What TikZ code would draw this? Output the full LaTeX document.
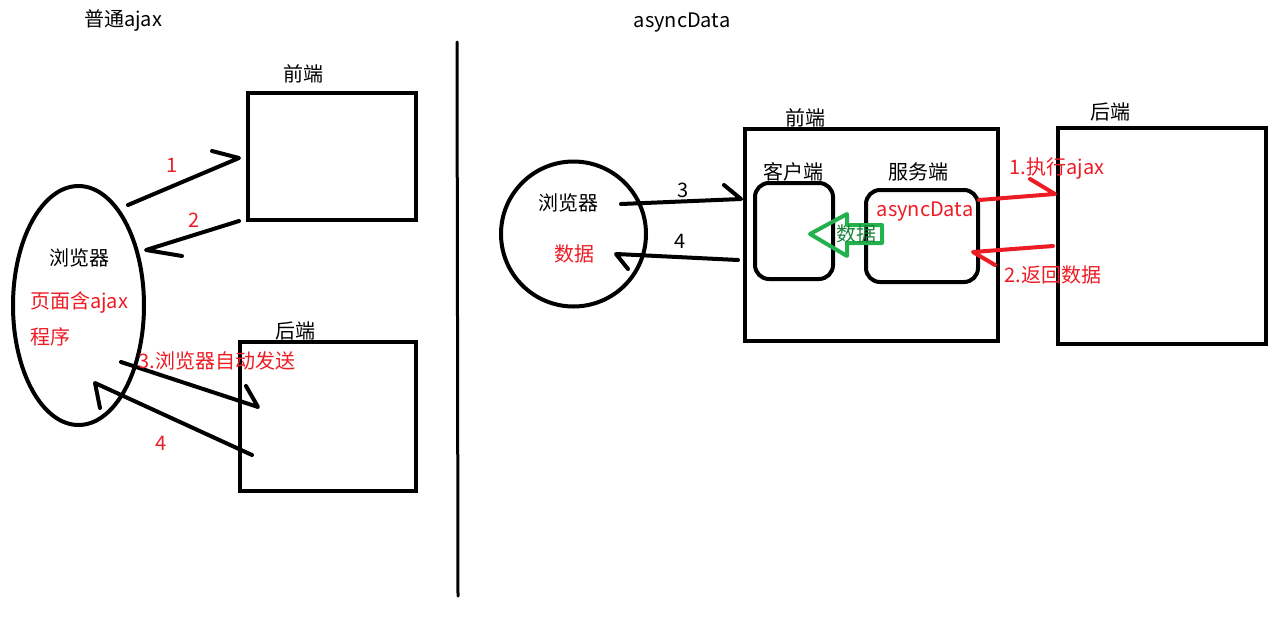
\documentclass[tikz,border=0pt]{standalone}
\usepackage{fontspec}
\setmainfont{Noto Sans CJK SC}
\usepackage{xcolor}
\usetikzlibrary{shapes.geometric}
\definecolor{paintred}{HTML}{ED1C24}
\definecolor{paintgreen}{HTML}{22B14C}

\tikzset{
  box/.style={draw, line width=4pt, inner sep=0pt},
  rbox/.style={box, rounded corners=14pt},
  hand/.style={line width=4pt, line cap=round, line join=round},
  lbl/.style={font=\fontsize{20}{24}\selectfont, inner sep=0pt},
  redlbl/.style={lbl, text=paintred},
}

\begin{document}
\begin{tikzpicture}[x=1pt, y=-1pt]
    \useasboundingbox (0,0) rectangle (1269,619);

    % left half
    \node[lbl] (titleA) at (123,20) {普通ajax};
    \node[box, minimum width=168, minimum height=127] (feA) at (332,156.5) {};
    \node[lbl] (feAl) at (303,74) {前端};
    \node[box, minimum width=176, minimum height=149] (beA) at (328,416.5) {};
    \node[lbl] (beAl) at (295,331) {后端};
    \node[box, ellipse, minimum width=131, minimum height=239] (brA) at (78.5,305.5) {};
    \node[lbl] (brAl) at (79,258) {浏览器};
    \node[redlbl] (pgA) at (79,302) {页面含ajax};
    \node[redlbl] (prA) at (50,337) {程序};

    \coordinate (a1s) at (128,205);
    \coordinate (a1e) at (239,158);
    \coordinate (a2s) at (239,221);
    \coordinate (a2e) at (146,250);
    \coordinate (a3s) at (121,362);
    \coordinate (a3e) at (258,407);
    \coordinate (a4s) at (252,455);
    \coordinate (a4e) at (95,383);
    \draw[hand] (a1s) -- (a1e) -- ++(-27,-7);
    \draw[hand] (a2s) -- (a2e) -- ++(36,6);
    \draw[hand] (a3s) -- (a3e) -- ++(-12,-21);
    \draw[hand] (a4s) -- (a4e) -- ++(5,25);
    \node[redlbl] (n1) at (172,165) {1};
    \node[redlbl] (n2) at (194,220) {2};
    \node[redlbl] (n3) at (217,361) {3.浏览器自动发送};
    \node[redlbl] (n4) at (161,443) {4};

    \draw[line width=3pt, line cap=round] (457,42) -- (458,596);

    % right half
    \node[lbl] (titleB) at (682,23) {asyncData};
    \node[box, minimum width=253, minimum height=212] (feB) at (871.5,235) {};
    \node[lbl] (feBl) at (805,118) {前端};
    \node[box, minimum width=208, minimum height=216] (beB) at (1162,236) {};
    \node[lbl] (beBl) at (1110,112) {后端};
    \node[rbox, minimum width=78, minimum height=96] (cli) at (794,231) {};
    \node[lbl] (clil) at (793,172) {客户端};
    \node[rbox, minimum width=112, minimum height=92] (srv) at (922,236) {};
    \node[lbl] (srvl) at (918,172) {服务端};
    \node[redlbl] (ad) at (925,212) {asyncData};
    \node[box, circle, minimum size=145] (brB) at (573.5,234) {};
    \node[lbl] (brBl) at (568,203) {浏览器};
    \node[redlbl] (dB) at (574,254) {数据};

    \coordinate (b3s) at (621,204);
    \coordinate (b3e) at (741,199);
    \coordinate (b4s) at (738,260);
    \coordinate (b4e) at (616,254);
    \draw[hand] (b3s) -- (b3e) -- ++(-17,-14);
    \draw[hand] (b4s) -- (b4e) -- ++(12,15);
    \node[lbl] (m3) at (683,190) {3};
    \node[lbl] (m4) at (680,241) {4};

    \coordinate (r1s) at (979,200);
    \coordinate (r1e) at (1055,194);
    \coordinate (r2s) at (1053,246);
    \coordinate (r2e) at (973,252);
    \draw[hand, paintred] (r1s) -- (r1e) -- ++(-25,-15);
    \draw[hand, paintred] (r2s) -- (r2e) -- ++(22,13);
    \node[redlbl] (r1l) at (1057,169) {1.执行ajax};
    \node[redlbl] (r2l) at (1053,275) {2.返回数据};

    \draw[hand, paintgreen] (810,234) -- (847,214) -- (847,225) -- (882,225)
        -- (882,243) -- (847,243) -- (847,256) -- cycle;
    \node[lbl, text=paintgreen!75!black] (gd) at (856,234) {数据};
\end{tikzpicture}
\end{document}
